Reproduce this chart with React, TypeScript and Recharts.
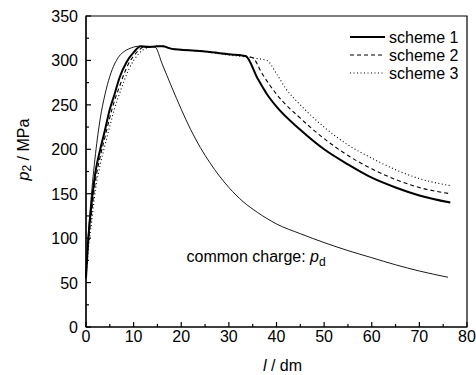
import React from 'react';
import {
  LineChart,
  Line,
  XAxis,
  YAxis,
  ReferenceArea,
  ReferenceDot,
  Label,
} from 'recharts';

// l in dm, p2 in MPa
const scheme1L = [0, 0.5, 1, 2, 3, 4, 5, 6, 7, 8.5, 10, 11.5, 13, 15, 16, 18, 20, 25, 30, 33.5, 36, 38, 40, 45, 50, 55, 60, 65, 70, 76.5];
const scheme1P = [55, 100, 130, 175, 200, 222, 245, 262, 280, 298, 309, 316, 315, 316, 316, 313, 312, 310, 307, 305, 280, 262, 248, 222, 200, 183, 168, 157, 148, 140];

const scheme2L = [0, 0.5, 1, 2, 3, 4, 5, 6, 7, 8, 9, 10, 11, 12.5, 13, 15, 16, 18, 20, 25, 30, 33.5, 35, 37, 40, 45, 50, 55, 60, 65, 70, 76.5];
const scheme2P = [55, 95, 120, 165, 192, 214, 236, 255, 270, 285, 297, 305, 311, 316, 315, 316, 316, 313, 312, 310, 307, 305, 303, 285, 262, 235, 212, 193, 178, 166, 157, 150];

const scheme3L = [0, 0.5, 1, 2, 3, 4, 5, 6, 7, 8, 9, 10, 11, 12, 13.5, 15, 16, 18, 20, 25, 30, 33.5, 36, 38, 40, 42, 45, 50, 55, 60, 65, 70, 76.5];
const scheme3P = [55, 88, 110, 155, 183, 205, 226, 246, 262, 277, 290, 300, 307, 312, 315, 316, 316, 313, 312, 310, 306, 304, 302, 300, 285, 268, 250, 225, 205, 190, 177, 167, 159];

const commonL = [0, 0.5, 1, 2, 3, 4, 5, 6, 7, 8, 9, 10, 11, 12, 13, 14.5, 16, 18, 20, 22, 24, 26, 28, 30, 33, 36, 40, 45, 50, 55, 60, 65, 70, 76];
const commonP = [55, 105, 140, 195, 235, 262, 282, 296, 305, 310, 313, 315, 316, 316, 316, 315, 296, 270, 245, 222, 202, 185, 170, 157, 141, 129, 116, 105, 95, 86, 78, 70, 63, 56];

const xTicks = [0, 5, 10, 15, 20, 25, 30, 35, 40, 45, 50, 55, 60, 65, 70, 75, 80];
const yTicks = [0, 25, 50, 75, 100, 125, 150, 175, 200, 225, 250, 275, 300, 325, 350];

const toPoints = (ls: number[], ps: number[]) => ls.map((l, i) => ({ l, p: ps[i] }));

const scheme1 = toPoints(scheme1L, scheme1P);
const scheme2 = toPoints(scheme2L, scheme2P);
const scheme3 = toPoints(scheme3L, scheme3P);
const common = toPoints(commonL, commonP);

const FONT = '"Liberation Sans", Arial, Helvetica, sans-serif';
const FS = 16;

function XTick({ x, y, payload }: any) {
  const major = payload.value % 10 === 0;
  return (
    <g>
      <line x1={x} x2={x} y1={y} y2={y - (major ? 5 : 3)} stroke="#000" strokeWidth={1.2} />
      {major && (
        <text x={x} y={y + 15} textAnchor="middle" fontSize={FS} fontFamily={FONT} fill="#000">
          {payload.value}
        </text>
      )}
    </g>
  );
}

function YTick({ x, y, payload }: any) {
  const major = payload.value % 50 === 0;
  return (
    <g>
      <line x1={x} x2={x + (major ? 5 : 3)} y1={y} y2={y} stroke="#000" strokeWidth={1.2} />
      {major && (
        <text x={x - 8} y={y + 6} textAnchor="end" fontSize={FS} fontFamily={FONT} fill="#000">
          {payload.value}
        </text>
      )}
    </g>
  );
}

const legendItems = [
  { name: 'scheme 1', width: 2, dash: undefined as string | undefined },
  { name: 'scheme 2', width: 1.1, dash: '4 3' },
  { name: 'scheme 3', width: 1.1, dash: '1 2.5' },
];

function LegendBox() {
  return (
    <svg width={120} height={60} style={{ position: 'absolute', left: 348, top: 28 }}>
      {legendItems.map((it, i) => (
        <g key={it.name} transform={`translate(0, ${9 + i * 18})`}>
          <line x1={2} x2={37} y1={0} y2={0} stroke="#000" strokeWidth={it.width} strokeDasharray={it.dash} />
          <text x={41} y={6} fontSize={FS} fontFamily={FONT} fill="#000">
            {it.name}
          </text>
        </g>
      ))}
    </svg>
  );
}

export default function App() {
  return (
    <div style={{ position: 'absolute', left: 0, top: 0, width: 476, height: 375, background: '#fff' }}>
      <LineChart width={476} height={375} margin={{ top: 16, right: 9, bottom: 0, left: 0 }}>
        <XAxis
          type="number"
          dataKey="l"
          domain={[0, 80]}
          ticks={xTicks}
          interval={0}
          height={48}
          tickSize={0}
          tickMargin={0}
          tickLine={false}
          axisLine={{ stroke: '#000', strokeWidth: 1.2 }}
          tick={<XTick />}
        >
          <Label
            content={({ viewBox }: any) => (
              <text
                x={viewBox.x + viewBox.width / 2 + 6}
                y={viewBox.y + 44}
                textAnchor="middle"
                fontSize={FS}
                fontFamily={FONT}
                fill="#000"
              >
                <tspan fontStyle="italic">l</tspan>
                <tspan> / dm</tspan>
              </text>
            )}
          />
        </XAxis>
        <YAxis
          type="number"
          dataKey="p"
          domain={[0, 350]}
          ticks={yTicks}
          interval={0}
          width={86}
          tickSize={0}
          tickMargin={0}
          tickLine={false}
          axisLine={{ stroke: '#000', strokeWidth: 1.2 }}
          tick={<YTick />}
        >
          <Label
            content={({ viewBox }: any) => {
              const cx = viewBox.x + 23;
              const cy = viewBox.y + viewBox.height / 2 - 22;
              return (
                <text
                  x={cx}
                  y={cy}
                  transform={`rotate(-90, ${cx}, ${cy})`}
                  textAnchor="middle"
                  dominantBaseline="central"
                  fontSize={FS}
                  fontFamily={FONT}
                  fill="#000"
                >
                  <tspan fontStyle="italic">p</tspan>
                  <tspan dy={4} fontSize={12}>2</tspan>
                  <tspan dy={-4}> / MPa</tspan>
                </text>
              );
            }}
          />
        </YAxis>
        <ReferenceArea x1={0} x2={80} y1={0} y2={350} fill="none" stroke="#000" strokeWidth={1.2} ifOverflow="visible" />
        <Line data={common} dataKey="p" name="common charge" type="monotone" stroke="#000" strokeWidth={0.9} dot={false} legendType="none" isAnimationActive={false} />
        <Line data={scheme3} dataKey="p" name="scheme 3" type="monotone" stroke="#000" strokeWidth={1.1} strokeDasharray="1 2.5" dot={false} isAnimationActive={false} />
        <Line data={scheme2} dataKey="p" name="scheme 2" type="monotone" stroke="#000" strokeWidth={1.1} strokeDasharray="4 3" dot={false} isAnimationActive={false} />
        <Line data={scheme1} dataKey="p" name="scheme 1" type="monotone" stroke="#000" strokeWidth={2} dot={false} isAnimationActive={false} />
        <ReferenceDot
          x={21.1}
          y={73.7}
          r={0}
          fill="none"
          stroke="none"
          ifOverflow="visible"
          label={({ viewBox }: any) => (
            <text x={viewBox.x} y={viewBox.y} fontSize={FS} fontFamily={FONT} fill="#000">
              <tspan>common charge: </tspan>
              <tspan fontStyle="italic">p</tspan>
              <tspan dy={4} fontSize={12}>d</tspan>
            </text>
          )}
        />
      </LineChart>
      <LegendBox />
    </div>
  );
}
